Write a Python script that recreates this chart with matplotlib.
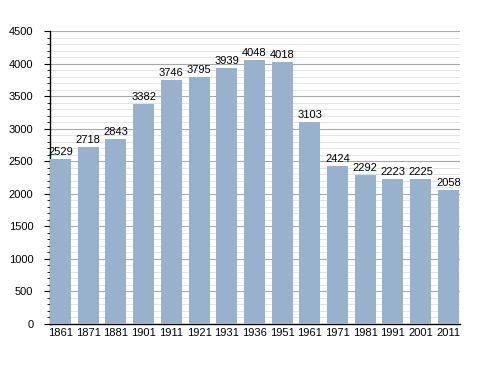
import numpy as np
import matplotlib.pyplot as plt
from matplotlib.ticker import MultipleLocator

years = ["1861", "1871", "1881", "1901", "1911", "1921", "1931", "1936",
         "1951", "1961", "1971", "1981", "1991", "2001", "2011"]
population = [2529, 2718, 2843, 3382, 3746, 3795, 3939, 4048,
              4018, 3103, 2424, 2292, 2223, 2225, 2058]

plt.rcParams["font.family"] = ["Liberation Sans", "DejaVu Sans"]

fig = plt.figure(figsize=(4.88, 3.73), dpi=100)
ax = fig.add_axes([50 / 488, 1 - 324 / 373, 410 / 488, 293 / 373])

x = np.arange(len(years))
ax.bar(x, population, width=0.76, color="#98b1cd", zorder=3)
for xi, v in zip(x, population):
    ax.text(xi, v + 30, str(v), ha="center", va="bottom", fontsize=8, zorder=4)

ax.set_xlim(-0.38, 14.42)
ax.set_ylim(0, 4500)
ax.yaxis.set_major_locator(MultipleLocator(500))
ax.yaxis.set_minor_locator(MultipleLocator(100))
ax.grid(axis="y", which="major", color="#a8a8a8", linewidth=0.8, zorder=0)
ax.grid(axis="y", which="minor", color="#dedede", linewidth=0.6, zorder=0)

ax.set_xticks(x)
ax.set_xticklabels(years)
ax.tick_params(axis="x", length=0, labelsize=8, pad=3)
ax.tick_params(axis="y", which="major", length=4, labelsize=8, direction="out", pad=8)
ax.tick_params(axis="y", which="minor", length=2.5, direction="out")
for s in ("top", "right"):
    ax.spines[s].set_visible(False)
ax.spines["left"].set_linewidth(1.0)
ax.spines["bottom"].set_linewidth(1.0)

fig.savefig("out.png", dpi=100)
